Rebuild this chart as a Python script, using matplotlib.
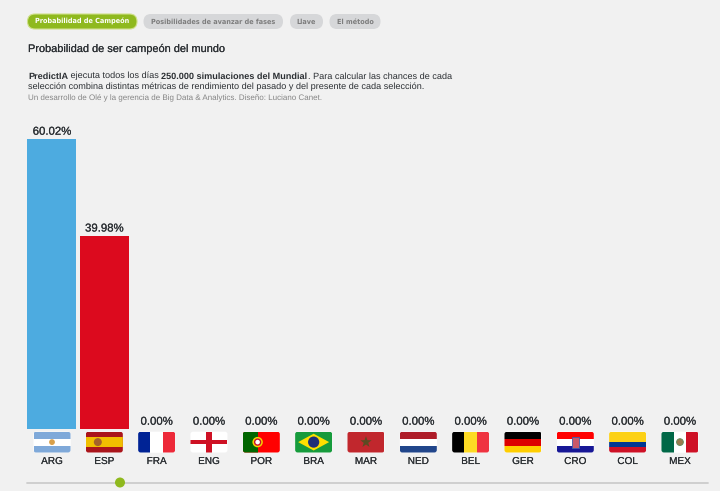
import math
import matplotlib
matplotlib.use("Agg")
import matplotlib.pyplot as plt
import matplotlib.patheffects as pe
from matplotlib.patches import FancyBboxPatch, Rectangle, Circle, Polygon, Ellipse

codes = ["ARG", "ESP", "FRA", "ENG", "POR", "BRA", "MAR", "NED", "BEL", "GER", "CRO", "COL", "MEX"]
champion_pct = [60.02, 39.98, 0, 0, 0, 0, 0, 0, 0, 0, 0, 0, 0]
bar_colors = ["#4dabe0", "#dc0a1e"] + ["#bbbbbb"] * 11
tab_labels = ["Probabilidad de Campeón", "Posibilidades de avanzar de fases", "Llave", "El método"]
title = "Probabilidad de ser campeón del mundo"
intro_line_1 = [("PredictIA", True), (" ejecuta todos los días ", False),
                ("250.000 simulaciones del Mundial", True),
                (". Para calcular las chances de cada", False)]
intro_line_2 = "selección combina distintas métricas de rendimiento del pasado y del presente de cada selección."
credit = "Un desarrollo de Olé y la gerencia de Big Data & Analytics. Diseño: Luciano Canet."

BG = "#f1f1f1"
INK = "#2b2f33"
plt.rcParams["font.family"] = ["Liberation Sans", "DejaVu Sans"]
plt.rcParams["text.hinting"] = "no_hinting"
plt.rcParams["text.hinting_factor"] = 8


def heavier(width, color=INK):
    # Thin same-colour outline gives regular text a medium weight
    return [pe.withStroke(linewidth=width, foreground=color)]


W, H = 720, 491
fig = plt.figure(figsize=(W / 100, H / 100), dpi=100, facecolor=BG)

# Bar panel: category index on x, percentage on y
pitch = 52.33
first = 52.0
ax = fig.add_axes([0, (H - 429) / H, 1, 290 / H])
ax.set_xlim(-first / pitch, (W - first) / pitch)
ax.set_ylim(0, 60.02)
ax.axis("off")
bars = ax.bar(range(len(codes)), champion_pct, width=49 / pitch, color=bar_colors, linewidth=0)
for i, v in enumerate(champion_pct):
    ax.annotate(f"{v:.2f}%", (i, v), xytext=(0, 3.1), textcoords="offset points",
                ha="center", va="baseline", fontsize=8.2, color=INK,
                path_effects=heavier(0.12), annotation_clip=False)

# Overlay in pixel units for tabs, copy, flags and the slider
ov = fig.add_axes([0, 0, 1, 1], facecolor="none", zorder=3)
ov.set_xlim(0, W)
ov.set_ylim(H, 0)
ov.axis("off")


def pill(x0, x1, y0, y1, color, edge="none"):
    ov.add_patch(FancyBboxPatch((x0, y0), x1 - x0, y1 - y0,
                                boxstyle=f"round,pad=0,rounding_size={(y1 - y0) / 2}",
                                fc=color, ec=edge, lw=0.8))


tab_spans = [(27.5, 137), (143.5, 283), (290, 323), (329.5, 380.5)]
for k, (label, (a, b)) in enumerate(zip(tab_labels, tab_spans)):
    active = k == 0
    pill(a, b, 14, 29, "#8fb91e" if active else "#d6d7d9", "#cfe08a" if active else "none")
    ov.text((a + b) / 2, 23.6, label, ha="center", va="baseline", fontsize=4.7,
            family="DejaVu Sans", fontweight="bold", color="white" if active else "#7d7d7d")

ov.text(28, 52, title, fontsize=7.9, color=INK, va="baseline", path_effects=heavier(0.1))

# First intro line mixes bold and regular runs
renderer = fig.canvas.get_renderer()
x = 28.0
for run, bold in intro_line_1:
    weight = "bold" if bold else "normal"
    ov.text(x, 78.5, run, fontsize=6.58, color=INK, va="baseline", fontweight=weight)
    probe = ov.text(0, 0, run.replace(" ", "\u00a0"), fontsize=6.58, fontweight=weight)
    x += probe.get_window_extent(renderer).width
    probe.remove()
ov.text(28, 89, intro_line_2, fontsize=6.58, color=INK, va="baseline")
ov.text(28, 100.5, credit, fontsize=5.75, color="#858585", va="baseline")


def flag(cx, draw):
    x0, y0, w, h = cx - 18.5, 431.7, 37, 20.8
    clip = FancyBboxPatch((x0, y0), w, h, boxstyle="round,pad=0,rounding_size=2.5",
                          fc="white", ec="none")
    ov.add_patch(clip)

    def hbands(*cols):
        for j, c in enumerate(cols):
            p = Rectangle((x0, y0 + j * h / len(cols)), w, h / len(cols), fc=c, ec="none")
            ov.add_patch(p)
            p.set_clip_path(clip)

    def vbands(*cols):
        for j, c in enumerate(cols):
            p = Rectangle((x0 + j * w / len(cols), y0), w / len(cols), h, fc=c, ec="none")
            ov.add_patch(p)
            p.set_clip_path(clip)

    def add(p):
        ov.add_patch(p)
        p.set_clip_path(clip)

    draw(x0, y0, w, h, hbands, vbands, add)


def f_arg(x, y, w, h, hb, vb, add):
    hb("#7fa9d9", "#ffffff", "#7fa9d9")
    add(Circle((x + w / 2, y + h / 2), 2.9, fc="#d9a04a", ec="none"))


def f_esp(x, y, w, h, hb, vb, add):
    add(Rectangle((x, y), w, h, fc="#aa151b", ec="none"))
    add(Rectangle((x, y + h / 4), w, h / 2, fc="#f1bf00", ec="none"))
    add(Ellipse((x + 12, y + h / 2), 8, 8, fc="#a5622a", ec="none"))


def f_fra(x, y, w, h, hb, vb, add):
    vb("#002395", "#ffffff", "#ed2939")


def f_eng(x, y, w, h, hb, vb, add):
    add(Rectangle((x + w / 2 - 3, y), 6, h, fc="#ce1124", ec="none"))
    add(Rectangle((x, y + h / 2 - 2), w, 4, fc="#ce1124", ec="none"))


def f_por(x, y, w, h, hb, vb, add):
    add(Rectangle((x, y), w, h, fc="#ff0000", ec="none"))
    add(Rectangle((x, y), w * 0.4, h, fc="#006600", ec="none"))
    add(Circle((x + w * 0.4, y + h / 2), 5.2, fc="#f5d400", ec="none"))
    add(Circle((x + w * 0.4, y + h / 2), 3, fc="#ffffff", ec="#c8102e", lw=1))


def f_bra(x, y, w, h, hb, vb, add):
    add(Rectangle((x, y), w, h, fc="#169b3c", ec="none"))
    add(Polygon([(x + 3, y + h / 2), (x + w / 2, y + 2), (x + w - 3, y + h / 2), (x + w / 2, y + h - 2)],
                fc="#fedf00", ec="none"))
    add(Circle((x + w / 2, y + h / 2), 5.6, fc="#1d2f78", ec="none"))


def f_mar(x, y, w, h, hb, vb, add):
    add(Rectangle((x, y), w, h, fc="#c1272d", ec="none"))
    pts = []
    for n in range(10):
        r = 6 if n % 2 == 0 else 2.4
        a = -math.pi / 2 + n * math.pi / 5
        pts.append((x + w / 2 + r * math.cos(a), y + h / 2 + r * math.sin(a)))
    add(Polygon(pts, fc="#5c4a22", ec="none"))


def f_ned(x, y, w, h, hb, vb, add):
    hb("#ae1c28", "#ffffff", "#21468b")


def f_bel(x, y, w, h, hb, vb, add):
    vb("#000000", "#fdda24", "#ef3340")


def f_ger(x, y, w, h, hb, vb, add):
    hb("#000000", "#dd0000", "#ffce00")


def f_cro(x, y, w, h, hb, vb, add):
    hb("#ff0000", "#ffffff", "#171796")
    add(Rectangle((x + w / 2 - 3.5, y + 5), 7, 11, fc="#c9596a", ec="#3a5bb0", lw=0.6))


def f_col(x, y, w, h, hb, vb, add):
    add(Rectangle((x, y), w, h / 2, fc="#fcd116", ec="none"))
    add(Rectangle((x, y + h / 2), w, h / 4, fc="#003893", ec="none"))
    add(Rectangle((x, y + 3 * h / 4), w, h / 4, fc="#ce1126", ec="none"))


def f_mex(x, y, w, h, hb, vb, add):
    vb("#006847", "#ffffff", "#ce1126")
    add(Circle((x + w / 2, y + h / 2), 3.4, fc="#9a7b4f", ec="#5f8a5a", lw=0.6))


painters = [f_arg, f_esp, f_fra, f_eng, f_por, f_bra, f_mar, f_ned, f_bel, f_ger, f_cro, f_col, f_mex]
for i, (code, paint) in enumerate(zip(codes, painters)):
    cx = first + i * pitch
    flag(cx, paint)
    ov.text(cx, 464, code, ha="center", va="baseline", fontsize=7.2, color=INK,
            path_effects=heavier(0.08))

# Date slider
ov.plot([27, 708], [482.5, 482.5], color="#cccccc", lw=1.3, solid_capstyle="round", zorder=1)
ov.add_patch(Circle((120, 482.5), 5, fc="#8fb91e", ec="none", zorder=2))

fig.savefig("out.png", dpi=100, facecolor=BG)
